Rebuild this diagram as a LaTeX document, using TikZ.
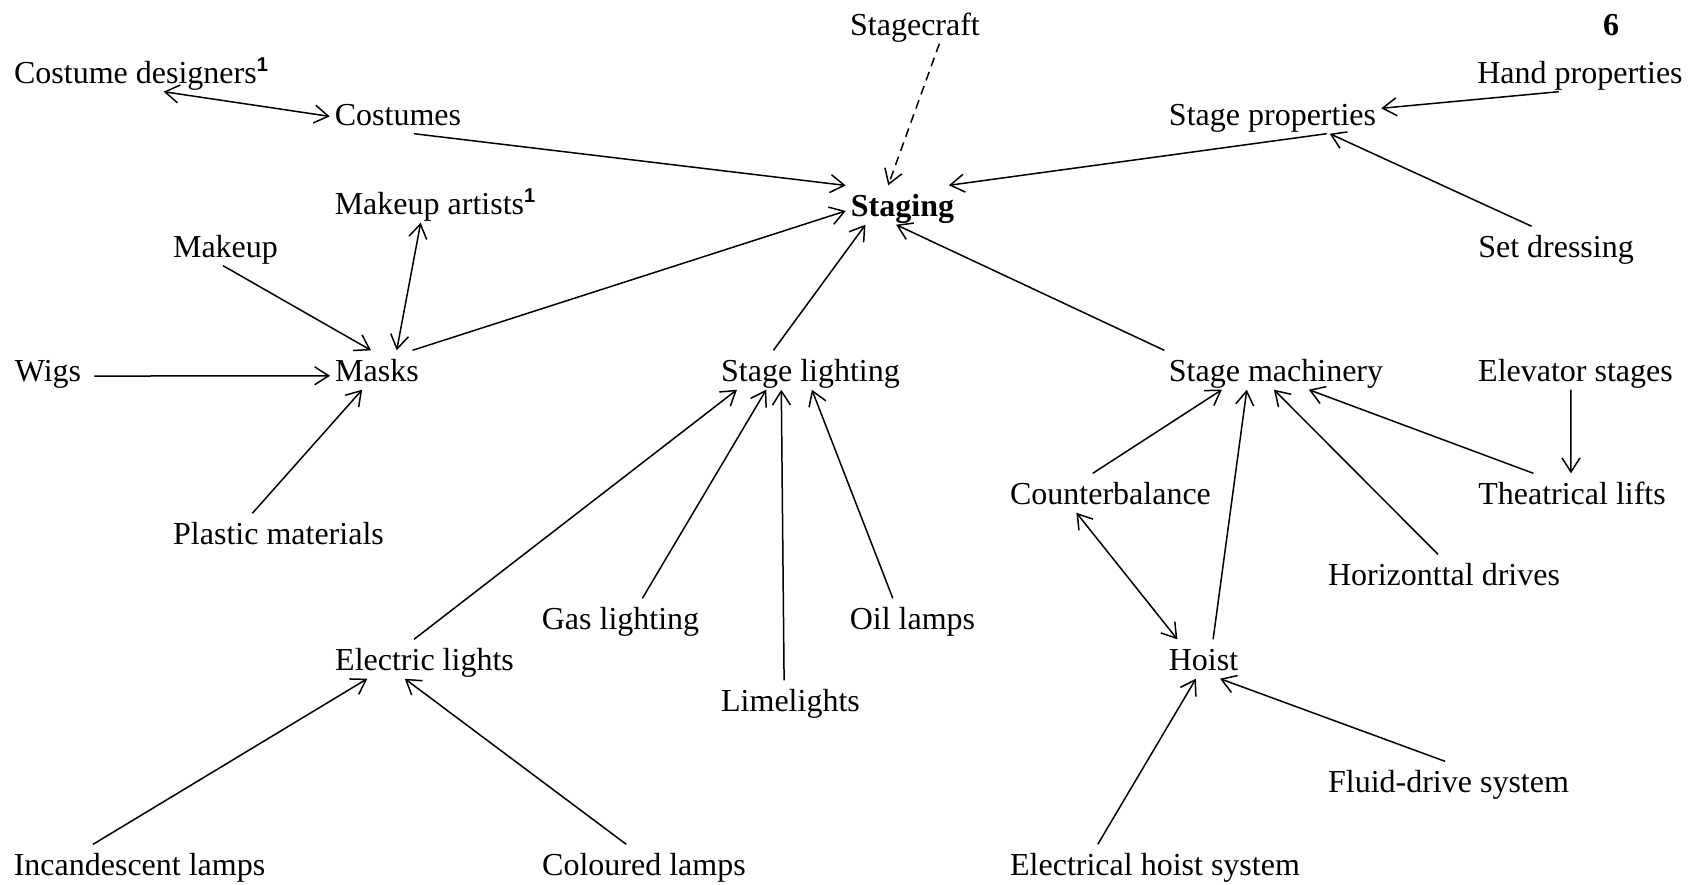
\documentclass[tikz,border=0pt]{standalone}
\usepackage{fontspec}
\setmainfont{Liberation Serif}
\setsansfont{Liberation Sans}
\usetikzlibrary{arrows.meta}
\tikzset{
lbl/.style={inner sep=5pt, text height=26pt, text depth=3pt, font=\fontsize{32}{38}\selectfont},
link/.style={line width=1.5pt, -{Straight Barb[length=14pt,width=18pt]}},
twoway/.style={line width=1.5pt, {Straight Barb[length=14pt,width=18pt]}-{Straight Barb[length=14pt,width=18pt]}},
dashlink/.style={link, dash pattern=on 9pt off 6pt}
}
\newcommand{\fnmark}{\raisebox{12pt}{\fontsize{20}{20}\selectfont\sffamily\bfseries 1}}

\begin{document}
\begin{tikzpicture}[x=1pt, y=-1pt, every node/.style={lbl}]
\useasboundingbox (0,0) rectangle (1693,884);
\node (craft) at (915,24) {Stagecraft};
\node (pagenum) at (1611,24) {\textbf{6}};
\node (costdes) at (141,72) {Costume designers\fnmark};
\node (handprop) at (1580,72) {Hand properties};
\node (costumes) at (398,114) {Costumes};
\node (stageprop) at (1272.5,114) {Stage properties};
\node (staging) at (902.5,205) {\textbf{Staging}};
\node (muartists) at (435,203) {Makeup artists\fnmark};
\node (makeup) at (225.5,246) {Makeup};
\node (setdress) at (1556,246) {Set dressing};
\node (wigs) at (48,370) {Wigs};
\node (masks) at (377,370) {Masks};
\node (lighting) at (810.5,370) {Stage lighting};
\node (machinery) at (1276,370) {Stage machinery};
\node (elevator) at (1575.5,370) {Elevator stages};
\node (counter) at (1110.5,493) {Counterbalance};
\node (lifts) at (1572,493) {Theatrical lifts};
\node (plastic) at (278.5,533) {Plastic materials};
\node (hdrives) at (1444,574) {Horizonttal drives};
\node (gas) at (620.5,618) {Gas lighting};
\node (oil) at (912.5,618) {Oil lamps};
\node (electric) at (424.5,659) {Electric lights};
\node (hoist) at (1203.5,659) {Hoist};
\node (lime) at (790.5,700) {Limelights};
\node (fluid) at (1448.5,781) {Fluid-drive system};
\node (incand) at (139.5,864) {Incandescent lamps};
\node (coloured) at (644,864) {Coloured lamps};
\node (elhoist) at (1155,864) {Electrical hoist system};

\foreach \a/\b in {costumes.-51/staging.161, stageprop.-20/staging.23, handprop.223/stageprop.3,
  setdress.141/stageprop.-19, makeup.263/masks.107, plastic.143/masks.233,
  masks.29/staging.186, lighting.152/staging.208, machinery.170/staging.252,
  electric.118/lighting.195, gas.42/lighting.204, lime.108/lighting.214, oil.135/lighting.-86,
  incand.157/electric.199, coloured.132/electric.225,
  counter.132/machinery.200, hoist.64/machinery.214, hdrives.107/machinery.264, lifts.153/machinery.-31,
  elevator.257/lifts.93, elhoist.161/hoist.249, fluid.100/hoist.-50}{
	\draw[link] (\a) -- (\b);
}
\draw[link, shorten <=8pt] (wigs.-9) -- (masks.187.5);
\foreach \a/\b in {costdes.-41/costumes.182, muartists.234/masks.45, counter.210/hoist.143}{
	\draw[twoway] (\a) -- (\b);
}
\draw[dashlink] (craft.-39) -- (staging.126);
\end{tikzpicture}
\end{document}
